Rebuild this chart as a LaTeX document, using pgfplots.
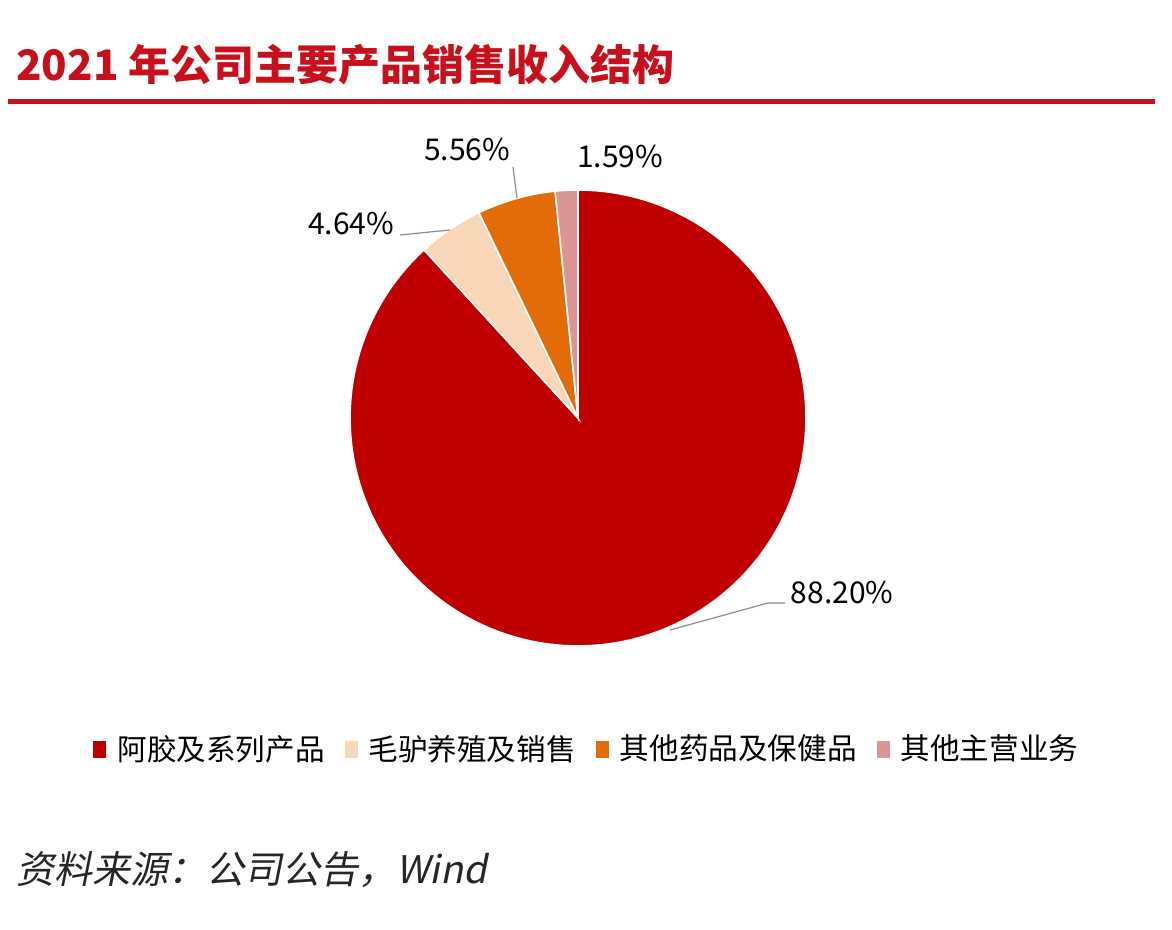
\documentclass[border=0pt]{standalone}
\usepackage{fontspec}
\setmainfont{Noto Sans CJK SC}
\newfontfamily\srcfont[FakeSlant=0.2]{Noto Sans CJK SC}
\usepackage{pgfplots}
\usepackage{pgfplotstable}
\pgfplotsset{compat=1.18}

\definecolor{cA}{HTML}{C00000}
\definecolor{cB}{HTML}{FAD6B8}
\definecolor{cC}{HTML}{E36C09}
\definecolor{cD}{HTML}{D99694}
\definecolor{titred}{HTML}{C8101C}
\definecolor{lead}{HTML}{8C8C8C}

% share of 2021 sales revenue, %
\pgfplotstableread{
name v
ejiao 88.20
donkey 4.64
drugs 5.56
other 1.59
}\piedata

\begin{document}%
\pgfplotstablegetelem{0}{v}\of\piedata \let\vA\pgfplotsretval%
\pgfplotstablegetelem{1}{v}\of\piedata \let\vB\pgfplotsretval%
\pgfplotstablegetelem{2}{v}\of\piedata \let\vC\pgfplotsretval%
\pgfplotstablegetelem{3}{v}\of\piedata \let\vD\pgfplotsretval%
% slices run clockwise from 12 o'clock
\pgfmathsetmacro\aA{90-3.6*\vA}%
\pgfmathsetmacro\aB{\aA-3.6*\vB}%
\pgfmathsetmacro\aC{\aB-3.6*\vC}%
\pgfmathsetmacro\aD{\aC-3.6*\vD}%
\def\cx{578}\def\cy{512}\def\R{228}%
\begin{tikzpicture}
\begin{axis}[
  scale only axis, width=586pt, height=465pt,
  xmin=0, xmax=1172, ymin=0, ymax=930,
  hide axis, clip=false,
  legend image code/.code={\fill[#1, draw=none] (0pt,-4.5pt) rectangle (6.5pt,4pt);},
  legend style={at={(axis cs:93,181)}, anchor=west, draw=none, fill=none,
    inner sep=0pt, legend columns=-1, column sep=0pt, row sep=0pt,
    nodes={inner sep=0pt}, font=\fontsize{14.8pt}{16pt}\selectfont},
]
\path (axis cs:0,0) rectangle (axis cs:1172,930);

\addplot[fill=cA, draw=white, line width=0.8pt, domain=\aA:90, samples=150, variable=\t]
  ({\cx+\R*cos(\t)}, {\cy+\R*sin(\t)}) -- (axis cs:\cx,\cy) -- cycle;
\addplot[fill=cB, draw=white, line width=0.8pt, domain=\aB:\aA, samples=20, variable=\t]
  ({\cx+\R*cos(\t)}, {\cy+\R*sin(\t)}) -- (axis cs:\cx,\cy) -- cycle;
\addplot[fill=cC, draw=white, line width=0.8pt, domain=\aC:\aB, samples=20, variable=\t]
  ({\cx+\R*cos(\t)}, {\cy+\R*sin(\t)}) -- (axis cs:\cx,\cy) -- cycle;
\addplot[fill=cD, draw=white, line width=0.8pt, domain=\aD:\aC, samples=10, variable=\t]
  ({\cx+\R*cos(\t)}, {\cy+\R*sin(\t)}) -- (axis cs:\cx,\cy) -- cycle;

\addlegendentry{\kern5.5pt 阿胶及系列产品\kern10pt}
\addlegendentry{\kern5.5pt 毛驴养殖及销售\kern10pt}
\addlegendentry{\kern5.5pt 其他药品及保健品\kern10pt}
\addlegendentry{\kern5.5pt 其他主营业务}

% leader lines
\addplot[forget plot, lead, line width=0.6pt] coordinates {(670,300) (768,327) (785,327)};
\addplot[forget plot, lead, line width=0.6pt] coordinates {(400,695) (450,700)};
\addplot[forget plot, lead, line width=0.6pt] coordinates {(513,763) (517,732)};

\node[font=\fontsize{15pt}{17pt}\selectfont] at (axis cs:842,337) {88.20\%};
\node[font=\fontsize{15pt}{17pt}\selectfont] at (axis cs:351,706) {4.64\%};
\node[font=\fontsize{15pt}{17pt}\selectfont] at (axis cs:467,780) {5.56\%};
\node[font=\fontsize{15pt}{17pt}\selectfont] at (axis cs:620,773) {1.59\%};

\node[anchor=west, inner sep=0pt, text=titred, font=\fontsize{21pt}{24pt}\selectfont\bfseries]
  at (axis cs:16,865) {2021 年公司主要产品销售收入结构};
\draw[titred, line width=2.5pt] (axis cs:8,828) -- (axis cs:1155,828);

\node[anchor=west, inner sep=0pt, text=black!85, font=\fontsize{19pt}{22pt}\selectfont\srcfont]
  at (axis cs:16,60) {资料来源：公司公告，Wind};
\end{axis}
\end{tikzpicture}%
\end{document}
